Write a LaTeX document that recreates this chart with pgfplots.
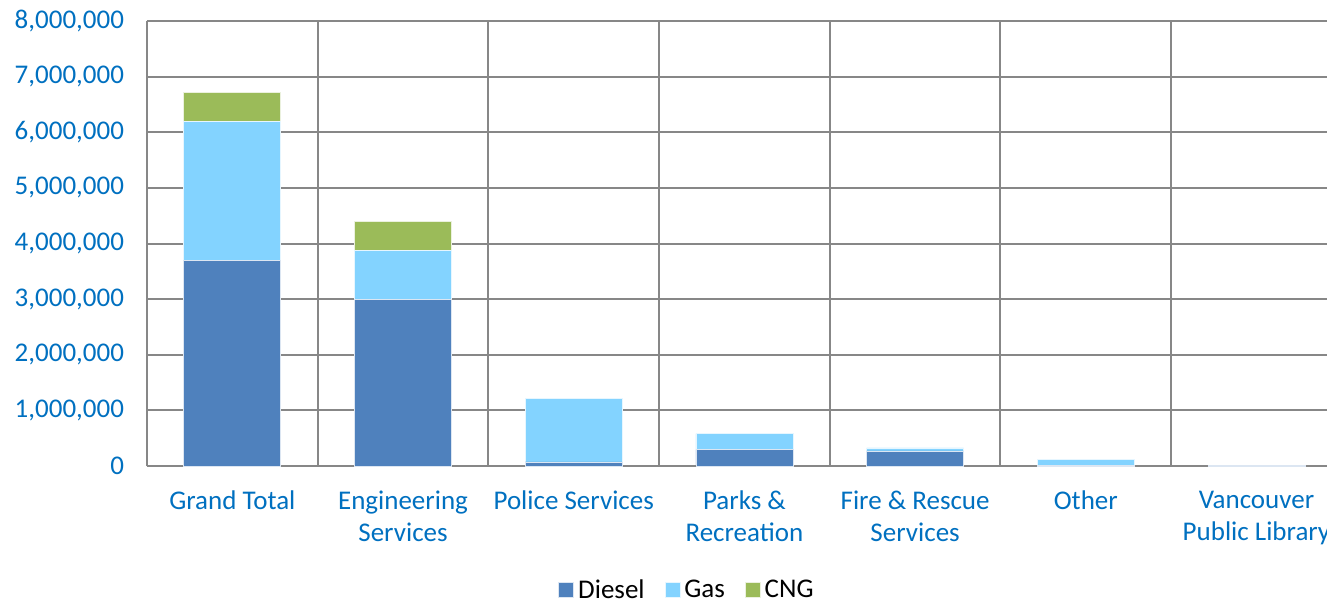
\documentclass[border=0pt]{standalone}
\usepackage{pgfplots}
\pgfplotsset{compat=1.18}
\usepackage{fontspec}
\setmainfont{Carlito}
\definecolor{diesel}{HTML}{4F81BD}
\definecolor{gas}{HTML}{83D3FF}
\definecolor{cng}{HTML}{9BBB59}
\definecolor{lblue}{HTML}{0070C0}
\definecolor{gridc}{HTML}{878787}
\begin{document}
\begin{tikzpicture}
\path[use as bounding box] (-73.5bp,-66.5bp) rectangle (590bp,233bp);
\begin{axis}[
  at={(0,0)}, anchor=south west,
  scale only axis,
  width=590bp, height=222.5bp,
  ybar stacked,
  bar width=48.5bp,
  xmin=-0.5, xmax=6.413,
  ymin=0, ymax=8000000,
  scaled y ticks=false,
  axis x line=bottom, axis y line=left,
  axis line style={draw=gridc, line width=1bp, -},
  xtick={0,1,2,3,4,5,6},
  xticklabels={Grand Total, Engineering\\Services, Police Services, Parks \&\\Recreation, Fire \& Rescue\\Services, Other, Vancouver\\Public Library},
  minor xtick={-0.5,0.5,1.5,2.5,3.5,4.5,5.5},
  xminorgrids=true,
  ytick={0,1000000,2000000,3000000,4000000,5000000,6000000,7000000,8000000},
  yticklabels={0,{1,000,000},{2,000,000},{3,000,000},{4,000,000},{5,000,000},{6,000,000},{7,000,000},{8,000,000}},
  ymajorgrids=true,
  grid style={draw=gridc, line width=1bp},
  minor grid style={draw=gridc, line width=1bp},
  major tick length=0pt, minor tick length=0pt,
  tick label style={font=\fontsize{13.5bp}{16bp}\selectfont, text=lblue},
  xticklabel style={align=center, yshift=-9bp},
  yticklabel style={xshift=-8bp},
  legend style={at={(rel axis cs:0.4585,-0.279)}, anchor=center, draw=none, fill=none,
    legend columns=3, font=\fontsize{13.5bp}{16bp}\selectfont,
    /tikz/every even column/.append style={column sep=8bp}},
  legend image code/.code={\fill[#1] (0bp,-3.75bp) rectangle (7.5bp,3.75bp);},
]
\addplot[fill=diesel, draw=white!80!diesel, line width=0.4bp] coordinates {(0,3700000) (1,3000000) (2,72000) (3,293000) (4,270000) (5,5000) (6,5000)};
\addplot[fill=gas, draw=white!80!gas, line width=0.4bp] coordinates {(0,2490000) (1,880000) (2,1150000) (3,290000) (4,54000) (5,108000) (6,13000)};
\addplot[fill=cng, draw=white!80!cng, line width=0.4bp] coordinates {(0,520000) (1,520000) (2,0) (3,0) (4,0) (5,0) (6,0)};
\legend{Diesel, Gas, CNG}
\end{axis}
\end{tikzpicture}
\end{document}
